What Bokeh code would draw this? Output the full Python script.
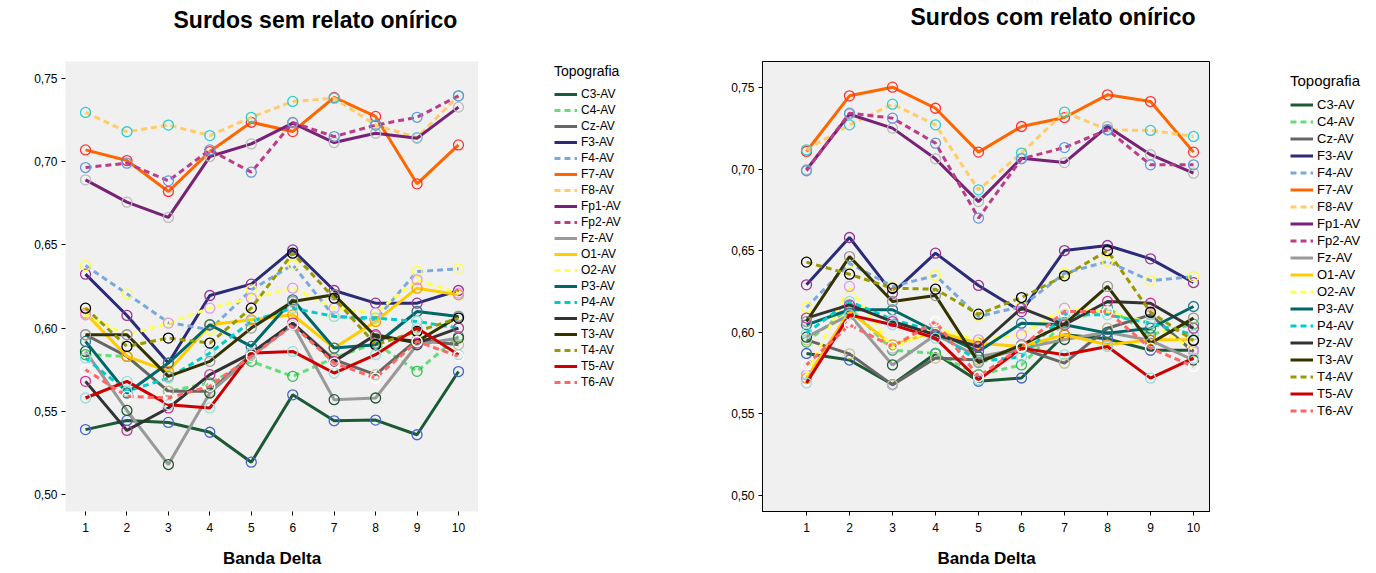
from bokeh.plotting import figure
from bokeh.models import Legend, LegendItem, FixedTicker, CustomJSTickFormatter, Range1d
from bokeh.layouts import row
from bokeh.embed import file_html
from bokeh.resources import INLINE

bands = [1, 2, 3, 4, 5, 6, 7, 8, 9, 10]
electrodes = ["C3-AV", "C4-AV", "Cz-AV", "F3-AV", "F4-AV", "F7-AV", "F8-AV", "Fp1-AV", "Fp2-AV",
              "Fz-AV", "O1-AV", "O2-AV", "P3-AV", "P4-AV", "Pz-AV", "T3-AV", "T4-AV", "T5-AV", "T6-AV"]
y_ticks = [0.50, 0.55, 0.60, 0.65, 0.70, 0.75]

# Surdos sem relato onírico
sem_C3 = [0.539, 0.5445, 0.5433, 0.5374, 0.5194, 0.5599, 0.5443, 0.5447, 0.5359, 0.5739]
sem_C4 = [0.584, 0.583, 0.562, 0.567, 0.580, 0.571, 0.582, 0.591, 0.574, 0.595]
sem_Cz = [0.596, 0.583, 0.562, 0.562, 0.584, 0.603, 0.581, 0.572, 0.593, 0.590]
sem_F3 = [0.6324, 0.6076, 0.579, 0.6196, 0.6264, 0.6470, 0.6226, 0.615, 0.615, 0.6226]
sem_F4 = [0.6376, 0.6206, 0.6034, 0.599, 0.623, 0.638, 0.607, 0.605, 0.634, 0.6356]
sem_F7 = [0.7071, 0.7007, 0.6821, 0.7061, 0.7237, 0.7181, 0.7386, 0.7272, 0.6867, 0.7101]
sem_F8 = [0.7296, 0.718, 0.722, 0.7157, 0.7267, 0.7362, 0.7382, 0.722, 0.7145, 0.7396]
sem_Fp1 = [0.6891, 0.6757, 0.6665, 0.7031, 0.7107, 0.7232, 0.7115, 0.7171, 0.7141, 0.7328]
sem_Fp2 = [0.6965, 0.6991, 0.6885, 0.7071, 0.6937, 0.7236, 0.7151, 0.722, 0.7267, 0.7396]
sem_Fz = [0.586, 0.5505, 0.518, 0.561, 0.583, 0.602, 0.557, 0.558, 0.590, 0.594]
sem_O1 = [0.609, 0.583, 0.574, 0.602, 0.605, 0.608, 0.588, 0.604, 0.624, 0.620]
sem_O2 = [0.608, 0.596, 0.603, 0.612, 0.618, 0.624, 0.612, 0.609, 0.629, 0.621]
sem_P3 = [0.592, 0.561, 0.579, 0.602, 0.589, 0.617, 0.588, 0.590, 0.610, 0.607]
sem_P4 = [0.582, 0.562, 0.570, 0.585, 0.604, 0.612, 0.607, 0.606, 0.604, 0.600]
sem_Pz = [0.568, 0.5385, 0.552, 0.572, 0.585, 0.603, 0.580, 0.596, 0.591, 0.600]
sem_T3 = [0.596, 0.596, 0.571, 0.580, 0.600, 0.616, 0.620, 0.595, 0.592, 0.607]
sem_T4 = [0.612, 0.589, 0.594, 0.591, 0.612, 0.645, 0.618, 0.590, 0.598, 0.606]
sem_T5 = [0.558, 0.568, 0.554, 0.552, 0.585, 0.586, 0.573, 0.584, 0.600, 0.584]
sem_T6 = [0.575, 0.559, 0.558, 0.565, 0.583, 0.602, 0.579, 0.570, 0.592, 0.583]

# Surdos com relato onírico
com_C3 = [0.587, 0.583, 0.568, 0.587, 0.570, 0.572, 0.5985, 0.596, 0.589, 0.589]
com_C4 = [0.594, 0.615, 0.589, 0.587, 0.574, 0.580, 0.606, 0.615, 0.5985, 0.605]
com_Cz = [0.5954, 0.5868, 0.5678, 0.5842, 0.583, 0.590, 0.5811, 0.6025, 0.6107, 0.588]
com_F3 = [0.6291, 0.6581, 0.624, 0.6485, 0.6287, 0.6127, 0.6501, 0.6532, 0.645, 0.6305]
com_F4 = [0.6152, 0.6423, 0.6281, 0.6348, 0.6097, 0.6158, 0.6362, 0.6434, 0.6316, 0.6342]
com_F7 = [0.7108, 0.7449, 0.7502, 0.7373, 0.7104, 0.7261, 0.7316, 0.7455, 0.7414, 0.7104]
com_F8 = [0.7118, 0.7271, 0.7398, 0.7271, 0.6873, 0.7098, 0.7349, 0.7241, 0.7237, 0.720]
com_Fp1 = [0.6996, 0.7336, 0.7251, 0.7063, 0.6801, 0.7067, 0.704, 0.7261, 0.7088, 0.6975]
com_Fp2 = [0.699, 0.7343, 0.7312, 0.7159, 0.670, 0.7063, 0.7132, 0.7241, 0.7026, 0.7026]
com_Fz = [0.597, 0.6107, 0.580, 0.5985, 0.585, 0.590, 0.5956, 0.600, 0.595, 0.583]
com_O1 = [0.5719, 0.6127, 0.5923, 0.6005, 0.5933, 0.5913, 0.5985, 0.5923, 0.5954, 0.5954]
com_O2 = [0.574, 0.6281, 0.5903, 0.6025, 0.5954, 0.5985, 0.6148, 0.6127, 0.6056, 0.5893]
com_P3 = [0.6046, 0.6138, 0.6138, 0.6005, 0.5882, 0.6056, 0.6046, 0.5995, 0.6025, 0.6158]
com_P4 = [0.5995, 0.6189, 0.6078, 0.6005, 0.5821, 0.585, 0.6107, 0.6107, 0.6056, 0.5985]
com_Pz = [0.6087, 0.6168, 0.6066, 0.5985, 0.5913, 0.6148, 0.6046, 0.6189, 0.6178, 0.6025]
com_T3 = [0.6066, 0.6464, 0.6189, 0.6225, 0.5815, 0.5923, 0.605, 0.6281, 0.5933, 0.6087]
com_T4 = [0.643, 0.6356, 0.627, 0.6264, 0.6111, 0.6213, 0.6346, 0.650, 0.6123, 0.595]
com_T5 = [0.569, 0.6107, 0.6046, 0.5964, 0.5709, 0.5903, 0.5862, 0.5913, 0.5719, 0.5842]
com_T6 = [0.580, 0.6046, 0.5913, 0.6066, 0.5729, 0.591, 0.6127, 0.6127, 0.5903, 0.5791]

sem_series = [sem_C3, sem_C4, sem_Cz, sem_F3, sem_F4, sem_F7, sem_F8, sem_Fp1, sem_Fp2, sem_Fz,
              sem_O1, sem_O2, sem_P3, sem_P4, sem_Pz, sem_T3, sem_T4, sem_T5, sem_T6]
com_series = [com_C3, com_C4, com_Cz, com_F3, com_F4, com_F7, com_F8, com_Fp1, com_Fp2, com_Fz,
              com_O1, com_O2, com_P3, com_P4, com_Pz, com_T3, com_T4, com_T5, com_T6]

line_colors = ["#1b5a34", "#66dd77", "#666666", "#2b2b78", "#7aa9dd", "#ff6600", "#ffcc66",
               "#772277", "#bb3d88", "#999999", "#ffcc00", "#ffff55", "#006666", "#00cccc",
               "#333333", "#333300", "#999900", "#cc0000", "#ff6666"]
dashed = [False, True, False, False, True, False, True, False, True, False,
          False, True, False, True, False, False, True, False, True]
marker_colors = ["#4466cc", "#33bb55", "#c8c08a", "#993399", "#ffff44", "#ff3333", "#33cccc",
                 "#bbbbbb", "#6699dd", "#1b5a34", "#ff9900", "#dd99ee", "#2e7a8a", "#99dddd",
                 "#cc3399", "#999999", "#000000", "#99dddd", "#ffffff"]

FONT = "Liberation Sans"
NAN = float("nan")


def dash_of(d):
    return "6 4" if d else "solid"


def make_panel(title, series, x_rng, y_rng, lb, fw, title_offset, title_standoff, outline):
    p = figure(frame_width=fw, frame_height=450, output_backend="svg", toolbar_location=None,
               x_range=Range1d(*x_rng), y_range=Range1d(*y_rng),
               min_border_left=lb, min_border_right=0, min_border_top=60, min_border_bottom=63,
               background_fill_color="#f0f0f0", border_fill_color="white")
    p.title.text = title + "\n"
    p.title.text_font = FONT
    p.title.text_font_size = "23px"
    p.title.text_font_style = "bold"
    p.title.text_color = "black"
    p.title.align = "left"
    p.title.offset = title_offset
    p.title.standoff = title_standoff
    p.title.vertical_align = "top"
    p.xgrid.visible = False
    p.ygrid.visible = False
    p.outline_line_color = "black" if outline else None
    p.outline_line_width = 1

    p.xaxis.ticker = FixedTicker(ticks=bands)
    p.yaxis.ticker = FixedTicker(ticks=y_ticks)
    p.yaxis.formatter = CustomJSTickFormatter(code="return tick.toFixed(2).replace('.', ',');")
    for ax in (p.xaxis, p.yaxis):
        ax.major_label_text_font = FONT
        ax.major_label_text_font_size = "12px"
        ax.major_label_text_color = "black"
        ax.minor_tick_line_color = None
        ax.major_tick_in = 0
        ax.major_tick_out = 4
        ax.major_tick_line_color = "black"
        ax.axis_line_color = "black" if outline else None
    p.xaxis.axis_label = "Banda Delta"
    p.xaxis.axis_label_text_font = FONT
    p.xaxis.axis_label_text_font_size = "17px"
    p.xaxis.axis_label_text_font_style = "bold"
    p.xaxis.axis_label_text_color = "black"
    p.xaxis.axis_label_standoff = 14
    p.xaxis.major_label_standoff = 7
    p.yaxis.major_label_standoff = 4

    for vals, lc, dsh, mc in zip(series, line_colors, dashed, marker_colors):
        p.line(bands, vals, line_color=lc, line_width=3, line_dash=dash_of(dsh))
        p.scatter(bands, vals, marker="circle", size=10, fill_color=None,
                  line_color=mc, line_width=1.3)
    return p


def make_legend(width, left, pad, row_h, label_size, title_size):
    lg = figure(width=width, height=573, output_backend="svg", toolbar_location=None,
                x_range=Range1d(0, 1), y_range=Range1d(0, 1),
                x_axis_location=None, y_axis_location=None,
                min_border_left=left, min_border_top=60, min_border_right=0, min_border_bottom=63,
                outline_line_color=None, background_fill_color="white",
                border_fill_color="white")
    lg.xgrid.visible = False
    lg.ygrid.visible = False
    items = []
    for name, lc, dsh in zip(electrodes, line_colors, dashed):
        # one empty (NaN) row: nothing is drawn in the frame, the legend swatch is
        r = lg.line(x=[NAN], y=[NAN], line_color=lc, line_width=3, line_dash=dash_of(dsh))
        items.append(LegendItem(label=name, renderers=[r]))
    leg = Legend(items=items, location="top_left", title="Topografia",
                 title_text_font=FONT, title_text_font_size=title_size,
                 title_text_font_style="normal", title_text_color="black",
                 title_standoff=7, label_text_font=FONT, label_text_font_size=label_size,
                 label_text_color="black",
                 glyph_width=23, glyph_height=row_h, label_height=row_h, spacing=0,
                 padding=pad, label_standoff=4, border_line_alpha=0, background_fill_alpha=0,
                 margin=0)
    lg.add_layout(leg, "center")
    return lg


left = make_panel("Surdos sem relato onírico", sem_series, (0.517, 10.483), (0.48978, 0.76022),
                  65, 413, 108, 2, False)
left_leg = make_legend(210, 74, 2, 16, "12px", "14px")
right = make_panel("Surdos com relato onírico", com_series, (-0.023, 10.395), (0.4902, 0.76593),
                   74, 448, 148, 7, True)
right_leg = make_legend(166, 69, 11, 17, "13px", "15px")

layout = row(left, left_leg, right, right_leg)
open("out.html", "w").write(file_html(layout, INLINE))
